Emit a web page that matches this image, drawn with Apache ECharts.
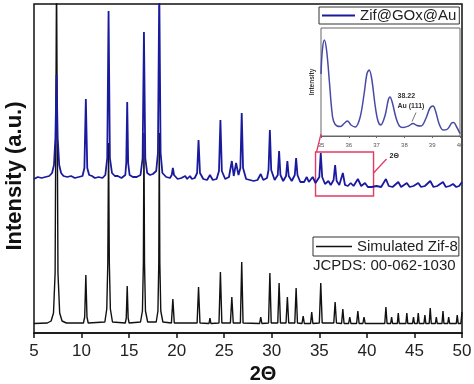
<!DOCTYPE html>
<html>
<head>
<meta charset="utf-8">
<script src="https://cdn.jsdelivr.net/npm/echarts@6/dist/echarts.min.js"></script>
<style>html,body{margin:0;padding:0;background:#fff}#c{width:474px;height:384px}</style>
</head>
<body>
<div id="c"></div>
<script>
// ---- data (2θ in degrees, intensity in arbitrary units) ----
const xTicks = [5, 10, 15, 20, 25, 30, 35, 40, 45, 50];
const insetTicks = [35, 36, 37, 38, 39, 40];

const simulatedZif8 = [
  [5, 9.5],
  [6.4, 10], [6.8, 12], [7.05, 20], [7.22, 60], [7.37, 360], [7.52, 60], [7.7, 20], [7.95, 12], [8.4, 10],
  [10.2, 10], [10.33, 16], [10.45, 58], [10.57, 16], [10.7, 10],
  [12.45, 11], [12.65, 24], [12.76, 70], [12.84, 190], [12.92, 70], [13.03, 24], [13.25, 11],
  [14.6, 10], [14.7, 15], [14.8, 47], [14.9, 15], [15.0, 10],
  [16.2, 11], [16.4, 22], [16.5, 70], [16.56, 200], [16.62, 70], [16.72, 22], [16.95, 11],
  [17.85, 11], [18.03, 22], [18.12, 70], [18.17, 200], [18.23, 70], [18.33, 22], [18.55, 11],
  [19.45, 10], [19.6, 34], [19.75, 10],
  [22.15, 10], [22.3, 46], [22.45, 10],
  [23.4, 9.5], [23.5, 15], [23.6, 9.5],
  [24.45, 10], [24.6, 61], [24.75, 10],
  [25.65, 10], [25.8, 36], [25.95, 10],
  [26.7, 10], [26.84, 71], [26.98, 10],
  [28.72, 9.5], [28.84, 16], [28.96, 9.5],
  [29.66, 10], [29.8, 60], [29.94, 10],
  [30.63, 10], [30.77, 50], [30.91, 10],
  [31.5, 10], [31.64, 36], [31.78, 10],
  [32.42, 10], [32.56, 45], [32.7, 10],
  [33.18, 9.5], [33.3, 17], [33.42, 9.5],
  [34.08, 9.5], [34.2, 21], [34.32, 9.5],
  [35.0, 10], [35.15, 50], [35.3, 10],
  [36.52, 10], [36.66, 31], [36.8, 10],
  [37.34, 9.5], [37.47, 24], [37.6, 9.5],
  [38.08, 9.5], [38.2, 16], [38.32, 9.5],
  [38.92, 9.5], [39.05, 22], [39.18, 9.5],
  [39.58, 9.5], [39.7, 16], [39.82, 9.5],
  [41.88, 9.5], [42.0, 26], [42.12, 9.5],
  [42.5, 9.5], [42.6, 16], [42.7, 9.5],
  [43.2, 9.5], [43.3, 20], [43.4, 9.5],
  [44.1, 9.5], [44.2, 20], [44.3, 9.5],
  [44.8, 9.5], [44.9, 16], [45.0, 9.5],
  [45.3, 9.5], [45.4, 20], [45.5, 9.5],
  [46.0, 9.5], [46.1, 18], [46.2, 9.5],
  [46.55, 9.5], [46.66, 25], [46.77, 9.5],
  [47.2, 9.5], [47.3, 16], [47.4, 9.5],
  [47.9, 9.5], [48.0, 22], [48.1, 9.5],
  [48.5, 9.5], [48.6, 16], [48.7, 9.5],
  [49.4, 9.5], [49.5, 18], [49.6, 9.5],
  [49.88, 9.5], [50, 21]
];

const zifGoxAu = [
  [5.0, 154], [5.4, 156], [5.8, 155], [6.2, 156], [6.6, 157], [6.9, 160], [7.1, 168], [7.25, 195], [7.37, 258], [7.49, 195], [7.65, 168], [7.85, 160],
  [8.1, 157], [8.5, 156], [8.9, 157], [9.3, 155], [9.7, 156], [10.1, 157], [10.3, 165], [10.45, 234], [10.6, 165], [10.8, 158],
  [11.1, 157], [11.4, 155], [11.8, 156], [12.2, 155], [12.5, 158], [12.7, 175], [12.84, 322], [12.98, 175], [13.2, 160],
  [13.5, 157], [13.8, 157], [14.2, 155], [14.6, 158], [14.7, 170], [14.8, 231], [14.9, 170], [15.05, 158],
  [15.4, 156], [15.8, 156], [16.2, 158], [16.42, 175], [16.56, 301], [16.7, 175], [16.9, 160],
  [17.2, 158], [17.5, 159], [17.85, 162], [18.03, 180], [18.17, 345], [18.31, 180], [18.5, 160],
  [18.9, 156], [19.3, 155], [19.48, 158], [19.6, 165], [19.72, 158], [20.1, 154], [20.5, 155], [20.9, 157], [21.1, 154],
  [21.4, 157], [21.6, 154], [21.9, 155], [22.15, 160], [22.3, 193], [22.45, 160], [22.8, 154], [23.2, 153], [23.5, 158], [23.8, 153],
  [24.2, 154], [24.45, 162], [24.6, 213], [24.75, 162], [25.1, 154], [25.5, 156], [25.8, 172], [26.0, 157], [26.25, 170], [26.5, 158],
  [26.7, 165], [26.84, 220], [26.98, 165], [27.3, 154], [27.7, 153], [28.1, 152], [28.5, 153], [28.84, 159], [29.1, 153], [29.5, 155],
  [29.66, 163], [29.8, 203], [29.94, 163], [30.3, 153], [30.63, 158], [30.77, 182], [30.91, 158], [31.2, 152], [31.5, 157], [31.64, 172],
  [31.78, 157], [32.1, 152], [32.42, 158], [32.56, 175], [32.7, 158], [33.0, 151], [33.4, 151], [33.68, 156], [33.9, 151], [34.3, 156],
  [34.6, 150], [35.0, 156], [35.15, 180], [35.3, 156], [35.6, 149], [35.95, 152], [36.2, 148], [36.5, 153], [36.66, 168], [36.82, 152],
  [37.1, 148], [37.47, 160], [37.7, 148], [38.0, 147], [38.3, 150], [38.6, 147], [39.05, 154], [39.4, 147], [39.8, 150], [40.1, 146],
  [40.5, 146], [41.0, 147], [41.5, 146], [42.0, 154], [42.3, 147], [42.7, 146], [43.3, 151], [43.6, 146], [44.2, 150], [44.5, 146],
  [44.9, 147], [45.4, 150], [45.7, 146], [46.1, 147], [46.66, 152], [47.0, 146], [47.4, 147], [48.0, 151], [48.3, 146], [48.7, 147],
  [49.05, 149], [49.4, 146], [49.7, 147], [50.0, 151]
];

const insetZoom = [
  [35.0, 62], [35.05, 86], [35.12, 96], [35.2, 86], [35.3, 55], [35.38, 28], [35.45, 15], [35.58, 10], [35.7, 9.5],
  [35.85, 13], [35.95, 15], [36.08, 11], [36.23, 9], [36.4, 18], [36.55, 42], [36.65, 62], [36.73, 66], [36.82, 58],
  [36.95, 30], [37.05, 15], [37.15, 11], [37.3, 20], [37.42, 36], [37.48, 39], [37.56, 34], [37.7, 18], [37.82, 10],
  [37.95, 8.5], [38.15, 10], [38.31, 12.5], [38.45, 10.5], [38.6, 10], [38.78, 18], [38.92, 28], [39.03, 30], [39.12, 25],
  [39.25, 12], [39.39, 6], [39.55, 7], [39.7, 13], [39.77, 13.5], [39.88, 9], [40.0, 2.5]
];

const auPeak = { theta: 38.22, label1: '38.22', label2: 'Au (111)' };
const zoomBox = { x0: 34.6, x1: 40.7, y0: 137, y1: 181 };

// ---- chart ----
const FONT = '"Liberation Sans", Arial, sans-serif';
const RED = '#e33a64';
const BLUE = '#1a1a9e';
const chart = echarts.init(document.getElementById('c'), null, { renderer: 'canvas' });

const option = {
  animation: false,
  backgroundColor: '#fff',
  textStyle: { fontFamily: FONT },
  grid: [
    { left: 34, right: 12, top: 4, bottom: 51, show: true, borderColor: '#111', borderWidth: 1.5, backgroundColor: 'transparent', containLabel: false, outerBoundsMode: 'none' },
    { left: 321, right: 14, top: 28, bottom: 248, show: true, borderColor: '#666', borderWidth: 1, backgroundColor: '#fff', z: 5, containLabel: false, outerBoundsMode: 'none' }
  ],
  xAxis: [
    {
      gridIndex: 0, type: 'value', min: 5, max: 50, interval: 5,
      name: '2\u0398', nameLocation: 'middle', nameGap: 30,
      nameTextStyle: { fontFamily: FONT, fontSize: 20, fontWeight: 'bold', color: '#111', padding: [0, 0, 0, 30] },
      axisLine: { show: true, lineStyle: { color: '#111', width: 1.5 } },
      axisTick: { show: true, inside: false, length: 5, lineStyle: { color: '#111', width: 1.5 } },
      axisLabel: { fontFamily: FONT, fontSize: 17, color: '#222', margin: 10, formatter: v => xTicks.includes(v) ? String(v) : '' },
      splitLine: { show: false }
    },
    {
      gridIndex: 1, type: 'value', min: 35, max: 40, interval: 1,
      axisLine: { show: true, lineStyle: { color: '#666', width: 1 } },
      axisTick: { show: true, length: 2, lineStyle: { color: '#666' } },
      axisLabel: { fontFamily: FONT, fontSize: 6, color: '#555', margin: 6, formatter: v => insetTicks.includes(v) ? String(v) : '' },
      splitLine: { show: false }
    }
  ],
  yAxis: [
    {
      gridIndex: 0, type: 'value', min: 0, max: 329,
      axisLine: { show: false }, axisTick: { show: false }, axisLabel: { show: false }, splitLine: { show: false }
    },
    {
      gridIndex: 1, type: 'value', min: 0, max: 108,
      name: 'Intensity', nameLocation: 'middle', nameGap: 5,
      nameTextStyle: { fontFamily: FONT, fontSize: 6.5, fontWeight: 'bold', color: '#333' },
      axisLine: { show: false }, axisTick: { show: false }, axisLabel: { show: false }, splitLine: { show: false }
    }
  ],
  legend: [
    {
      data: ['Zif@GOx@Au'], left: 319, top: 7, padding: [1, 3, 1, 3],
      borderColor: '#333', borderWidth: 1, backgroundColor: '#fff',
      icon: 'rect', itemWidth: 33, itemHeight: 2,
      textStyle: { fontFamily: FONT, fontSize: 15, color: '#222' }
    },
    {
      data: ['Simulated Zif-8'], left: 313, top: 237, padding: [2, 1, 2, 3],
      borderColor: '#333', borderWidth: 1, backgroundColor: '#fff',
      icon: 'rect', itemWidth: 36, itemHeight: 1.6,
      textStyle: { fontFamily: FONT, fontSize: 15, color: '#222' }
    }
  ],
  series: [
    {
      name: 'Simulated Zif-8', type: 'line', xAxisIndex: 0, yAxisIndex: 0,
      data: simulatedZif8, symbol: 'none', clip: true,
      lineStyle: { color: '#111', width: 1.4 }, itemStyle: { color: '#111' }
    },
    {
      name: 'Zif@GOx@Au', type: 'line', xAxisIndex: 0, yAxisIndex: 0,
      data: zifGoxAu, symbol: 'none', clip: true,
      lineStyle: { color: BLUE, width: 1.8 }, itemStyle: { color: BLUE },
      markArea: {
        silent: true,
        itemStyle: { color: 'rgba(0,0,0,0)', borderColor: RED, borderWidth: 1.4 },
        data: [[{ coord: [zoomBox.x0, zoomBox.y1] }, { coord: [zoomBox.x1, zoomBox.y0] }]]
      }
    },
    {
      name: 'inset', type: 'line', xAxisIndex: 1, yAxisIndex: 1,
      data: insetZoom, symbol: 'none', smooth: 0.35, z: 6,
      lineStyle: { color: '#4848a8', width: 1.5 }
    }
  ]
};
chart.setOption(option);

// annotations anchored to data coordinates
const insetCorner = chart.convertToPixel({ gridIndex: 1 }, [35, 0]);
const boxCorner = chart.convertToPixel({ gridIndex: 0 }, [zoomBox.x0, zoomBox.y1]);
const boxRight = chart.convertToPixel({ gridIndex: 0 }, [zoomBox.x1, 160]);
const auPt = chart.convertToPixel({ gridIndex: 1 }, [38.31, 12.5]);
const auTxt = chart.convertToPixel({ gridIndex: 1 }, [auPeak.theta, 40]);
const yMid = chart.convertToPixel({ gridIndex: 0 }, [5, 157]);

chart.setOption({
  graphic: [
    { type: 'text', z: 20, x: 15, y: yMid[1], rotation: Math.PI / 2,
      style: { text: 'Intensity (a.u.)', font: 'bold 22px ' + FONT, fill: '#111', textAlign: 'center', textVerticalAlign: 'middle' } },
    { type: 'line', z: 20, shape: { x1: insetCorner[0], y1: insetCorner[1] - 2, x2: boxCorner[0] + 1, y2: boxCorner[1] }, style: { stroke: RED, lineWidth: 1.3 } },
    { type: 'line', z: 20, shape: { x1: boxRight[0], y1: boxRight[1], x2: boxRight[0] + 13, y2: boxRight[1] - 14 }, style: { stroke: RED, lineWidth: 1.3 } },
    { type: 'text', z: 20, x: boxRight[0] + 16, y: boxRight[1] - 17, style: { text: '2\u0398', font: 'bold 7px ' + FONT, fill: '#222', textVerticalAlign: 'middle' } },
    { type: 'line', z: 20, shape: { x1: auPt[0] - 1, y1: auPt[1] - 2, x2: auPt[0] + 3, y2: auPt[1] - 11 }, style: { stroke: '#555', lineWidth: 0.8 } },
    { type: 'text', z: 20, x: auTxt[0] - 13, y: auTxt[1], style: { text: auPeak.label1, font: 'bold 7px ' + FONT, fill: '#333', textVerticalAlign: 'middle' } },
    { type: 'text', z: 20, x: auTxt[0] - 13, y: auTxt[1] + 10, style: { text: auPeak.label2, font: 'bold 7px ' + FONT, fill: '#333', textVerticalAlign: 'middle' } },
    { type: 'text', z: 20, left: 313, top: 258, style: { text: 'JCPDS: 00-062-1030', font: '15px ' + FONT, fill: '#222' } }
  ]
});
</script>
</body>
</html>
